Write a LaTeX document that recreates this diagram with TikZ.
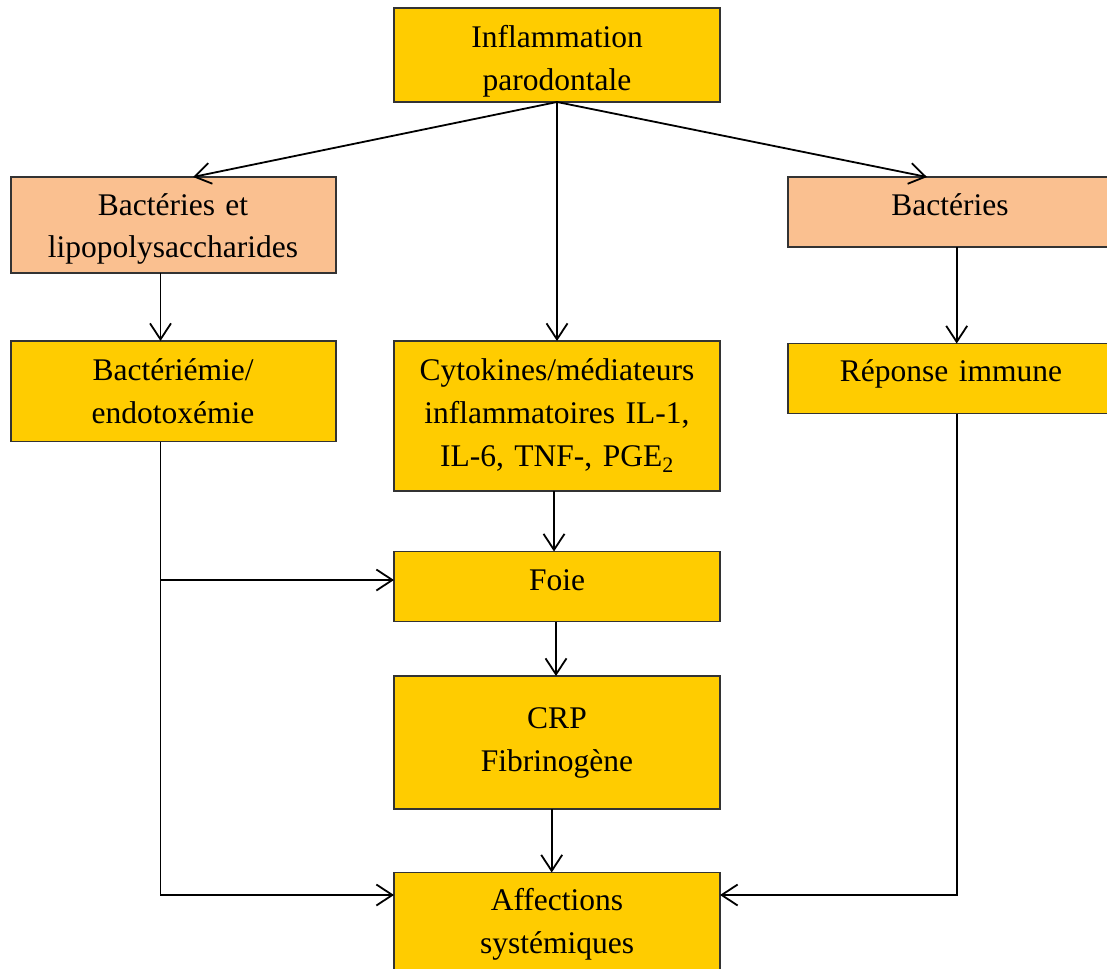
\documentclass[tikz,border=0pt]{standalone}
\usepackage{fontspec}
\setmainfont{Liberation Serif}
\usetikzlibrary{arrows.meta}
\definecolor{gold}{HTML}{FFCC00}
\definecolor{peach}{HTML}{FAC090}
\definecolor{edge}{HTML}{333333}
\tikzset{
  box/.style={draw=edge, line width=1.2pt, inner sep=0pt, outer sep=0pt},
  ybox/.style={box, fill=gold},
  pbox/.style={box, fill=peach},
  txt/.style={inner sep=0pt, text width=320pt, align=center,
    font=\fontsize{31.5}{43}\selectfont, anchor=base},
  arr/.style={draw=black, line width=1.8pt,
    -{Straight Barb[length=16pt,width=21pt,line width=1.8pt]}}
}
\begin{document}
\begin{tikzpicture}[x=1pt,y=-1pt]
\useasboundingbox (0,0) rectangle (1107,968);
\clip (0,0) rectangle (1107,968);

% boxes
\node[ybox, minimum width=326pt, minimum height=94pt] (top) at (557,55) {};
\node[pbox, minimum width=325pt, minimum height=96pt] (blps) at (173.5,225) {};
\node[pbox, minimum width=324pt, minimum height=70pt] (bact) at (950,212) {};
\node[ybox, minimum width=325pt, minimum height=100.5pt] (bem) at (173.5,391.25) {};
\node[ybox, minimum width=326pt, minimum height=150pt] (cyto) at (557,416) {};
\node[ybox, minimum width=324pt, minimum height=70pt] (rep) at (950,378.5) {};
\node[ybox, minimum width=326pt, minimum height=70pt] (foie) at (557,586.5) {};
\node[ybox, minimum width=326pt, minimum height=133pt] (crp) at (557,742.5) {};
\node[ybox, minimum width=326pt, minimum height=128pt] (aff) at (557,936.5) {};

% labels
\node[txt] (ttop) at (557,48) {Inflammation\\parodontale};
\node[txt] (tblps) at (173,215) {Bactéries et\\lipopolysaccharides};
\node[txt] (tbact) at (950,215) {Bactéries};
\node[txt] (tbem) at (173,380) {Bactériémie/\\endotoxémie};
\node[txt] (tcyto) at (557,380) {Cytokines/médiateurs\\inflammatoires IL-1,\\IL-6, TNF-, PGE\textsubscript{2}};
\node[txt] (trep) at (951,381.5) {Réponse immune};
\node[txt] (tfoie) at (557,590) {Foie};
\node[txt] (tcrp) at (557,728) {CRP\\Fibrinogène};
\node[txt] (taff) at (557,910) {Affections\\systémiques};

% connectors
\draw[arr] (top.south) -- ([xshift=19.5pt]blps.north);
\draw[arr] (top.south) -- ([xshift=-23pt]bact.north);
\draw[arr] (top.south) -- (cyto.north);
\draw[arr] ([xshift=-13pt]blps.south) -- ([xshift=-13pt]bem.north);
\draw[arr] ([xshift=6.7pt]bact.south) -- ([xshift=6.7pt]rep.north);
\draw[arr] ([xshift=-3pt]cyto.south) -- ([xshift=-3pt]foie.north);
\draw[arr] ([xshift=-1pt]foie.south) -- ([xshift=-1pt]crp.north);
\draw[arr] ([xshift=-5.3pt]crp.south) -- ([xshift=-5.3pt]aff.north);
\coordinate (lx) at ([xshift=-13pt]bem.south);
\draw[arr] (lx) |- ([yshift=-22.5pt]aff.north west);
\draw[arr] ([yshift=6.5pt]foie.west -| lx) -- ([yshift=6.5pt]foie.west);
\draw[arr] ([xshift=6.7pt]rep.south) |- ([yshift=-22.5pt]aff.north east);
\end{tikzpicture}
\end{document}
